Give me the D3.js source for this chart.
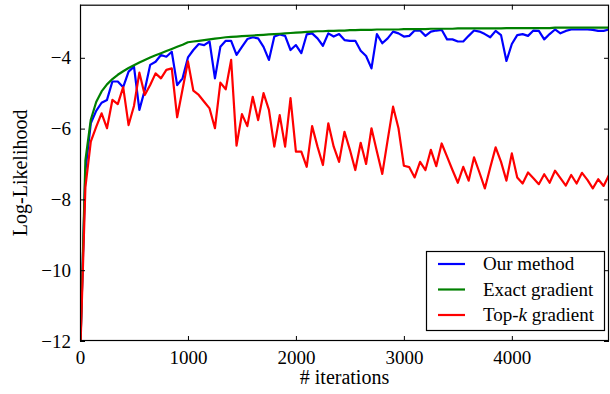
<!DOCTYPE html>
<html>
<head>
<meta charset="utf-8">
<script src="https://cdn.jsdelivr.net/npm/d3@7"></script>
<style>
  body { margin: 0; background: #fff; }
  svg { display: block; }
</style>
</head>
<body>
<div id="chart"></div>
<script>
// iteration counts (every 50)
const iterations = [0,50,100,150,200,250,300,350,400,450,500,550,600,650,700,750,800,850,900,950,
  1000,1050,1100,1150,1200,1250,1300,1350,1400,1450,1500,1550,1600,1650,1700,1750,1800,1850,1900,1950,
  2000,2050,2100,2150,2200,2250,2300,2350,2400,2450,2500,2550,2600,2650,2700,2750,2800,2850,2900,2950,
  3000,3050,3100,3150,3200,3250,3300,3350,3400,3450,3500,3550,3600,3650,3700,3750,3800,3850,3900,3950,
  4000,4050,4100,4150,4200,4250,4300,4350,4400,4450,4500,4550,4600,4650,4700,4750,4800,4850,4900];

const ourMethod = [-12.5,-7.2,-5.85,-5.5,-5.27,-5.19,-4.67,-4.67,-4.83,-4.39,
  -4.25,-5.47,-4.91,-4.2,-4.11,-3.92,-3.97,-3.83,-4.77,-4.58,
  -3.99,-3.78,-3.61,-3.64,-3.54,-4.58,-3.69,-3.52,-3.52,-3.92,
  -3.69,-3.47,-3.42,-3.45,-3.69,-4.06,-3.40,-3.34,-3.38,-3.78,
  -3.64,-3.87,-3.34,-3.31,-3.45,-3.66,-3.31,-3.40,-3.33,-3.50,
  -3.52,-3.52,-3.80,-3.95,-4.30,-3.33,-3.59,-3.45,-3.26,-3.31,
  -3.40,-3.38,-3.23,-3.23,-3.38,-3.26,-3.23,-3.21,-3.48,-3.48,
  -3.54,-3.54,-3.38,-3.23,-3.26,-3.33,-3.42,-3.24,-3.36,-4.09,
  -3.61,-3.36,-3.33,-3.38,-3.23,-3.24,-3.48,-3.33,-3.20,-3.31,
  -3.24,-3.20,-3.20,-3.20,-3.20,-3.21,-3.24,-3.24,-3.20];

const exactGradient = [-12.6,-6.9,-5.75,-5.25,-4.95,-4.75,-4.6,-4.48,-4.38,-4.29,
  -4.21,-4.13,-4.06,-3.99,-3.93,-3.87,-3.81,-3.75,-3.69,-3.63,
  -3.56,-3.54,-3.52,-3.50,-3.48,-3.46,-3.44,-3.42,-3.41,-3.40,
  -3.39,-3.38,-3.37,-3.36,-3.35,-3.34,-3.33,-3.32,-3.31,-3.30,
  -3.29,-3.28,-3.27,-3.26,-3.25,-3.25,-3.24,-3.24,-3.23,-3.23,
  -3.22,-3.22,-3.21,-3.21,-3.21,-3.20,-3.20,-3.20,-3.20,-3.20,
  -3.19,-3.19,-3.19,-3.19,-3.19,-3.18,-3.18,-3.18,-3.18,-3.18,
  -3.17,-3.17,-3.17,-3.17,-3.17,-3.17,-3.17,-3.17,-3.17,-3.16,
  -3.16,-3.16,-3.16,-3.16,-3.16,-3.16,-3.16,-3.16,-3.15,-3.15,
  -3.15,-3.15,-3.15,-3.15,-3.15,-3.15,-3.15,-3.15,-3.15];

const topKGradient = [-12.6,-7.65,-6.37,-5.95,-5.57,-5.99,-5.19,-5.31,-4.83,-5.9,
  -5.36,-4.42,-5.05,-4.77,-4.44,-4.58,-4.34,-4.30,-5.68,-4.89,
  -4.1,-4.93,-5.05,-5.24,-5.43,-5.99,-4.70,-4.89,-4.06,-6.48,
  -5.59,-5.93,-5.10,-5.76,-5.0,-5.47,-6.51,-5.62,-6.51,-5.14,
  -6.65,-6.65,-7.08,-5.93,-6.51,-7.03,-5.85,-6.51,-6.94,-6.09,
  -6.6,-7.17,-6.40,-7.0,-5.99,-6.65,-7.28,-6.32,-5.38,-5.99,
  -7.05,-7.09,-7.38,-6.94,-7.17,-6.60,-7.06,-6.42,-6.79,-7.17,
  -7.53,-7.08,-7.47,-6.81,-7.24,-7.69,-7.1,-6.53,-6.94,-7.47,
  -6.70,-7.38,-7.55,-7.24,-7.40,-7.57,-7.29,-7.53,-7.19,-7.40,
  -7.61,-7.31,-7.55,-7.25,-7.45,-7.69,-7.43,-7.62,-7.31];

const xTicks = [0, 1000, 2000, 3000, 4000];
const yTicks = [-12, -10, -8, -6, -4];

const series = [
  {name: "Our method", values: ourMethod, color: "#0000ff"},
  {name: "Exact gradient", values: exactGradient, color: "#008000"},
  {name: "Top-k gradient", values: topKGradient, color: "#ff0000"}
];

const width = 610, height = 394;
const plotLeft = 80, plotRight = 609, plotTop = 4.7, plotBottom = 341;
const serif = "Liberation Serif";

const svg = d3.select("#chart").append("svg")
  .attr("width", width)
  .attr("height", height)
  .attr("font-family", serif);

const x = d3.scaleLinear().domain([0, 4900]).range([plotLeft, plotRight]);
const y = d3.scaleLinear().domain([-12, -2.5]).range([plotBottom, plotTop]);

svg.append("clipPath").attr("id", "plotclip")
  .append("rect")
  .attr("x", plotLeft).attr("y", plotTop)
  .attr("width", plotRight - plotLeft).attr("height", plotBottom - plotTop);

const line = d3.line()
  .x((d, i) => x(iterations[i]))
  .y(d => y(d));

svg.append("g")
  .attr("clip-path", "url(#plotclip)")
  .selectAll("path")
  .data(series)
  .enter()
  .append("path")
  .attr("d", d => line(d.values))
  .attr("fill", "none")
  .attr("stroke", d => d.color)
  .attr("stroke-width", 2.2)
  .attr("stroke-linejoin", "round");

// axes, matplotlib-style inward ticks on all sides
const fmt = d => d < 0 ? "\u2212" + Math.abs(d) : String(d);

const xAxisB = d3.axisBottom(x).tickValues(xTicks).tickSize(-5).tickPadding(10).tickFormat(fmt);
const xAxisT = d3.axisTop(x).tickValues(xTicks).tickSize(-5).tickFormat("");
const yAxisL = d3.axisLeft(y).tickValues(yTicks).tickSize(-5).tickPadding(9).tickFormat(fmt);
const yAxisR = d3.axisRight(y).tickValues(yTicks).tickSize(-5).tickFormat("");

function style(g) {
  g.attr("font-family", serif);
  g.select(".domain").remove();
  g.selectAll(".tick line").attr("stroke", "#000").attr("stroke-width", 1);
  g.selectAll(".tick text").style("font-size", "19px").style("font-family", serif).attr("fill", "#000");
}

svg.append("g").attr("transform", `translate(0,${plotBottom})`).call(xAxisB).call(style);
svg.append("g").attr("transform", `translate(0,${plotTop})`).call(xAxisT).call(style);
svg.append("g").attr("transform", `translate(${plotLeft},0)`).call(yAxisL).call(style);
svg.append("g").attr("transform", `translate(${plotRight},0)`).call(yAxisR).call(style);

svg.append("rect")
  .attr("x", plotLeft + 0.5).attr("y", plotTop + 0.5)
  .attr("width", plotRight - plotLeft - 1).attr("height", plotBottom - plotTop - 1)
  .attr("fill", "none")
  .attr("stroke", "#000")
  .attr("stroke-width", 1.2);

svg.append("text")
  .attr("x", (plotLeft + plotRight) / 2)
  .attr("y", 384)
  .attr("text-anchor", "middle")
  .style("font-size", "20px")
  .style("font-family", serif)
  .text("# iterations");

svg.append("text")
  .attr("transform", `translate(27,${(plotTop + plotBottom) / 2}) rotate(-90)`)
  .attr("text-anchor", "middle")
  .style("font-size", "20px")
  .style("font-family", serif)
  .text("Log-Likelihood");

// legend
const legend = svg.append("g");
legend.append("rect")
  .attr("x", 426.5).attr("y", 251.5)
  .attr("width", 178).attr("height", 79)
  .attr("fill", "#fff")
  .attr("stroke", "#000")
  .attr("stroke-width", 1.2);

const rows = legend.selectAll("g.row")
  .data(series)
  .enter()
  .append("g")
  .attr("class", "row")
  .attr("transform", (d, i) => `translate(0,${264 + i * 25.5})`);

rows.append("line")
  .attr("x1", 438).attr("x2", 465)
  .attr("stroke", d => d.color)
  .attr("stroke-width", 2.2);

rows.append("text")
  .attr("x", 483)
  .attr("y", 6)
  .style("font-size", "19px")
  .style("font-family", serif)
  .each(function (d) {
    const t = d3.select(this);
    if (d.name === "Top-k gradient") {
      t.append("tspan").text("Top-");
      t.append("tspan").style("font-style", "italic").text("k");
      t.append("tspan").text(" gradient");
    } else {
      t.text(d.name);
    }
  });
</script>
</body>
</html>
